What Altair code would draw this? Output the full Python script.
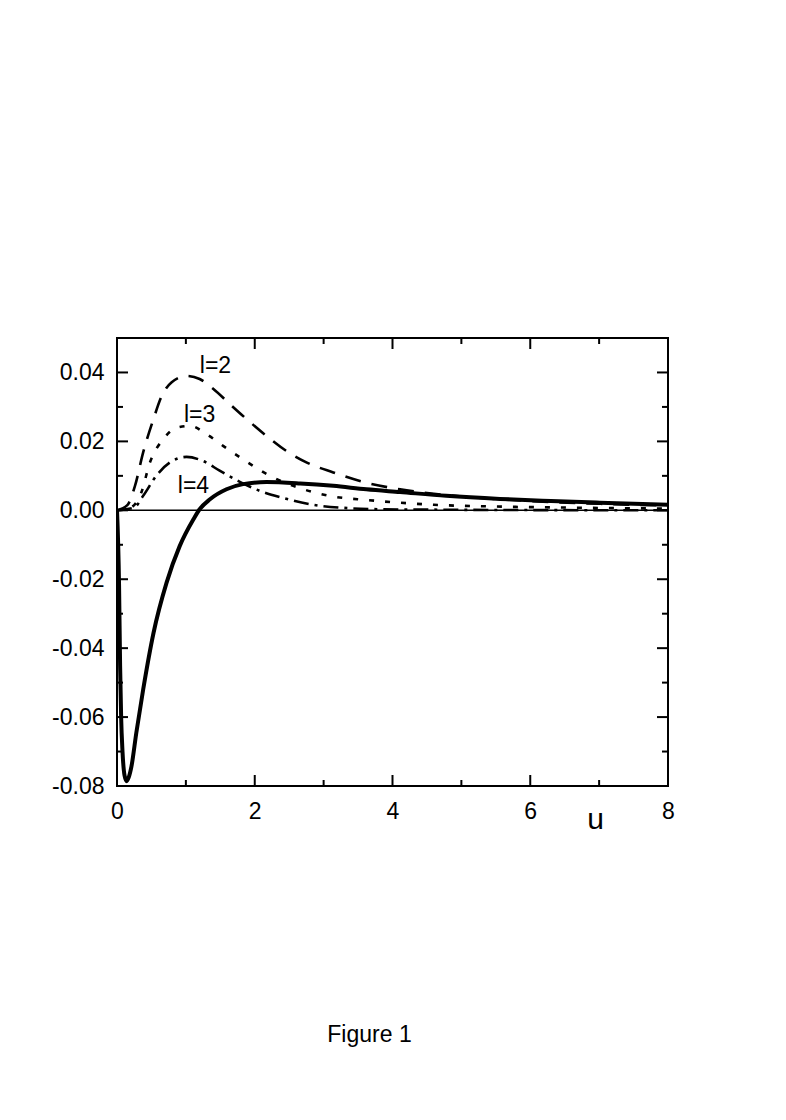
import altair as alt
import pandas as pd

# ---- data ----
u_total = [0, 0.03, 0.045, 0.06, 0.08, 0.11, 0.14, 0.17, 0.21, 0.28, 0.38, 0.53, 0.72, 0.91,
           1.11, 1.20, 1.35, 1.59, 1.83, 2.17, 2.66, 3.14, 3.62, 4.11, 4.78, 5.56, 6.3, 7.01, 8.0]
v_total = [0, -0.022, -0.045, -0.060, -0.070, -0.077, -0.0786, -0.0775, -0.0743, -0.0646, -0.052,
           -0.0356, -0.021, -0.0104, -0.0026, 0.0003, 0.0032, 0.0061, 0.0076, 0.0082, 0.0078,
           0.0071, 0.0061, 0.0053, 0.0042, 0.0033, 0.0027, 0.0022, 0.0016]

u_l2 = [0, 0.15, 0.26, 0.38, 0.53, 0.65, 0.79, 1.01, 1.20, 1.40, 1.64, 1.88, 2.17, 2.46, 2.75,
        3.14, 3.62, 4.11, 4.6, 5.2, 6.0, 7.0, 8.0]
v_l2 = [0, 0.0015, 0.007, 0.0168, 0.0265, 0.0332, 0.0371, 0.0390, 0.0381, 0.0352, 0.0308,
        0.0265, 0.0216, 0.0172, 0.0139, 0.0110, 0.0080, 0.0061, 0.0048, 0.0037, 0.0027,
        0.0019, 0.0014]

u_l3 = [0, 0.2, 0.35, 0.48, 0.67, 0.87, 1.06, 1.30, 1.54, 1.83, 2.22, 2.66, 3.14, 3.62, 4.11,
        4.6, 5.5, 6.5, 8.0]
v_l3 = [0, 0.0008, 0.005, 0.014, 0.0206, 0.024, 0.0245, 0.0221, 0.0187, 0.0148, 0.0100, 0.0064,
        0.0040, 0.0030, 0.0022, 0.0016, 0.0011, 0.0008, 0.0005]

u_l4 = [0, 0.25, 0.38, 0.57, 0.77, 1.01, 1.25, 1.49, 1.79, 2.08, 2.41, 2.85, 3.38, 3.86, 4.5,
        5.5, 8.0]
v_l4 = [0, 0.0008, 0.0042, 0.0100, 0.0139, 0.0155, 0.0143, 0.0115, 0.0082, 0.0056, 0.0036,
        0.0016, 0.0006, 0.0003, 0.0002, 0.0001, 0.0]

label_text = ["l=2", "l=3", "l=4"]
label_u = [1.43, 1.20, 1.11]
label_v = [0.0397, 0.0256, 0.0051]

x_major = [0, 2, 4, 6, 8]
x_minor = [1, 3, 5, 7]
y_major = [-0.08, -0.06, -0.04, -0.02, 0.0, 0.02, 0.04]
y_minor = [-0.07, -0.05, -0.03, -0.01, 0.01, 0.03]

# ---- layout ----
W, H = 551, 448
FONT = "Liberation Sans"
FS = 23
MAJ, MIN = 11, 6

xs = alt.Scale(domain=[0, 8], nice=False, zero=False)
ys = alt.Scale(domain=[-0.08, 0.05], nice=False, zero=False)

X_AX = alt.Axis(values=x_major, labelExpr="format(datum.value, 'd')",
                ticks=False, tickSize=0, domain=False, grid=False,
                labelFont=FONT, labelFontSize=FS, labelColor="black",
                labelPadding=14, labelFlush=False, labelOverlap=False,
                titleFont=FONT, titleFontSize=30, titleFontWeight="normal",
                titleColor="black", titleX=478, titleY=42,
                titleAlign="center", titleBaseline="alphabetic")
Y_AX = alt.Axis(values=y_major,
                labelExpr="replace(format(datum.value, '.2f'), '\u2212', '-')",
                ticks=False, tickSize=0, domain=False, grid=False,
                labelFont=FONT, labelFontSize=FS, labelColor="black",
                labelPadding=13, labelFlush=False, labelOverlap=False)


def X(field="u:Q"):
    return alt.X(field, scale=xs, title="u", axis=X_AX)


def Y(field="v:Q"):
    return alt.Y(field, scale=ys, title=None, axis=Y_AX)


def line(u, v, dash, width):
    df = pd.DataFrame({"u": u, "v": v})
    kw = dict(color="black", strokeWidth=width, interpolate="monotone", clip=True)
    if dash:
        kw["strokeDash"] = dash
    return alt.Chart(df).mark_line(**kw).encode(x=X(), y=Y())


zero = alt.Chart(pd.DataFrame({"u": [0, 8], "v": [0, 0]})).mark_line(
    color="black", strokeWidth=1.5
).encode(x=X(), y=Y())


def xticks(vals, length):
    df = pd.DataFrame({"u": vals})
    base = alt.Chart(df).mark_rule(color="black", strokeWidth=2)
    bottom = base.encode(x=X(), y=alt.value(H), y2=alt.value(H - length))
    top = base.encode(x=X(), y=alt.value(0), y2=alt.value(length))
    return [bottom, top]


def yticks(vals, length):
    df = pd.DataFrame({"v": vals})
    base = alt.Chart(df).mark_rule(color="black", strokeWidth=2)
    left = base.encode(y=Y(), x=alt.value(0), x2=alt.value(length))
    right = base.encode(y=Y(), x=alt.value(W), x2=alt.value(W - length))
    return [left, right]


labels = alt.Chart(pd.DataFrame({"u": label_u, "v": label_v, "t": label_text})).mark_text(
    font=FONT, fontSize=FS, color="black", align="center", baseline="alphabetic"
).encode(x=X(), y=Y(), text="t:N")

caption = alt.Chart(pd.DataFrame({"t": ["Figure 1"]})).mark_text(
    font=FONT, fontSize=FS, color="black", align="center", baseline="alphabetic"
).encode(x=alt.value(252.5), y=alt.value(704), text="t:N")

layers = [zero,
          line(u_l2, v_l2, [16, 11], 2.6),
          line(u_l3, v_l3, [5, 11], 2.6),
          line(u_l4, v_l4, [15, 6, 3, 6], 2.6),
          line(u_total, v_total, None, 4),
          labels, caption]
layers += xticks(x_major, MAJ) + xticks(x_minor, MIN) + yticks(y_major, MAJ) + yticks(y_minor, MIN)

chart = alt.layer(*layers).properties(
    width=W, height=H,
    background="white",
    autosize=alt.AutoSizeParams(type="none"),
    padding={"left": 109, "top": 330, "right": 100, "bottom": 290},
).configure_view(stroke="black", strokeWidth=2)

chart.save("out.html", embed_options={"renderer": "svg", "actions": False})
